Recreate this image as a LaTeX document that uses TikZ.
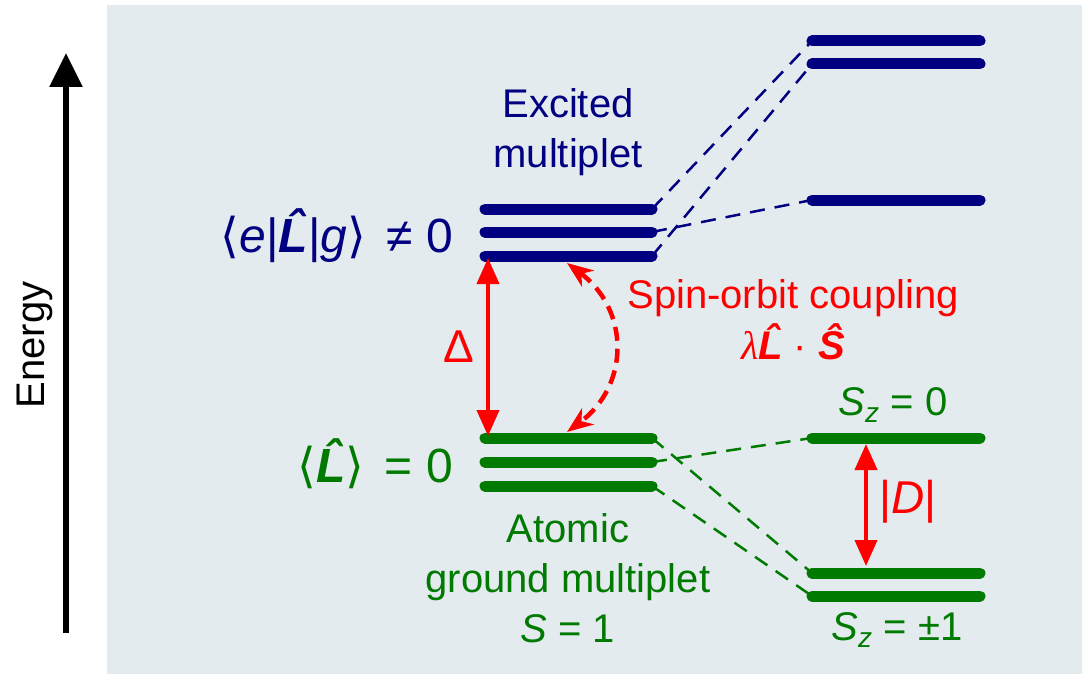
\documentclass[tikz,border=0pt]{standalone}
\usepackage{fontspec}
\setmainfont{Liberation Sans}
\newfontfamily\brkfont{DejaVu Sans}
\newfontfamily\greekit{Liberation Serif}
\usetikzlibrary{arrows.meta}

\definecolor{bgpanel}{RGB}{228,235,239}
\definecolor{exblue}{RGB}{0,0,128}
\definecolor{gsgreen}{RGB}{0,122,0}
\definecolor{socred}{RGB}{255,0,0}

\newcommand{\Lop}{{\bfseries\itshape\accent"02C6 L}}
\newcommand{\Sop}{{\bfseries\itshape\accent"02C6 S}}
\newcommand{\lbr}{{\brkfont ⟨}}
\newcommand{\rbr}{{\brkfont ⟩}}

\tikzset{
  lvlblue/.style={line width=11pt, line cap=round, exblue},
  lvlgreen/.style={line width=11pt, line cap=round, gsgreen},
  splitblue/.style={dash pattern=on 15pt off 10pt, line width=2.5pt, exblue},
  splitgreen/.style={dash pattern=on 15pt off 10pt, line width=2.5pt, gsgreen},
  gaparrow/.style={socred, line width=4pt, <->, >={Triangle[width=22pt,length=26pt]}},
  socarrow/.style={socred, line width=4.5pt, dash pattern=on 14pt off 8pt, <->,
    >={Stealth[width=20pt,length=26pt,inset=8pt]}},
  lbl/.style={font=\fontsize{40}{50}\selectfont, inner sep=0pt, align=center},
  formula/.style={font=\fontsize{48}{56}\selectfont, inner sep=0pt, anchor=base east}
}

\begin{document}
\begin{tikzpicture}[x=1pt, y=-1pt]
  \useasboundingbox (0,0) rectangle (1082,674);

  % Panel
  \fill[bgpanel] (107,5) rectangle (1082,674);

  % Energy axis
  \coordinate (ebot) at (66,633);
  \coordinate (etop) at (66,53);
  \draw[line width=6pt, -{Triangle[width=32pt,length=34pt]}] (ebot) -- (etop);
  \node[lbl, rotate=90] (elabel) at (35,345) {Energy};

  % Level end points
  \foreach \y [count=\i] in {209,232,256} {
    \coordinate (eL\i) at (485,\y);
    \coordinate (eR\i) at (652,\y);
  }
  \foreach \y [count=\i] in {41,64,200} {
    \coordinate (xL\i) at (812,\y);
    \coordinate (xR\i) at (980,\y);
  }
  \foreach \y [count=\i] in {438,462,486} {
    \coordinate (gL\i) at (485,\y);
    \coordinate (gR\i) at (652,\y);
  }
  \foreach \y [count=\i] in {438,573,596} {
    \coordinate (sL\i) at (812,\y);
    \coordinate (sR\i) at (980,\y);
  }

  % Splitting (dashed)
  \draw[splitblue] (eR1) -- (xL1);
  \draw[splitblue] (eR3) -- (xL2);
  \draw[splitblue] (eR2) -- (xL3);
  \draw[splitgreen] (gR2) -- (sL1);
  \draw[splitgreen] (gR1) -- (sL2);
  \draw[splitgreen] (gR3) -- (sL3);

  % Levels
  \foreach \i in {1,2,3} {
    \draw[lvlblue] (eL\i) -- (eR\i);
    \draw[lvlblue] (xL\i) -- (xR\i);
    \draw[lvlgreen] (gL\i) -- (gR\i);
    \draw[lvlgreen] (sL\i) -- (sR\i);
  }

  % Excited multiplet
  \node[lbl, exblue] (exname) at (568,132) {Excited\\multiplet};
  \node[formula, exblue] (exmat) at (453,252)
    {\lbr\textit{e}|\Lop|\textit{g}\rbr\hspace{7pt} ≠ 0};

  % Ground multiplet
  \node[formula, gsgreen] (gsexp) at (453,482)
    {\lbr\Lop\rbr\hspace{7pt} = 0};
  \node[lbl, gsgreen] (gsname) at (568,578)
    {Atomic\\ground multiplet\\\textit{S} = 1};
  \node[lbl, gsgreen] (szzero) at (893,405) {\textit{S}\textsubscript{\textit{z}} = 0};
  \node[lbl, gsgreen] (szone) at (897,630) {\textit{S}\textsubscript{\textit{z}} = ±1};

  % Gaps
  \coordinate (dtop) at (488,258);
  \coordinate (dbot) at (488,436);
  \draw[gaparrow] (dtop) -- (dbot);
  \node[lbl, socred, font=\fontsize{46}{50}\selectfont] (delta) at (459,347) {Δ};

  \coordinate (ztop) at (866,444);
  \coordinate (zbot) at (866,566);
  \draw[gaparrow] (ztop) -- (zbot);
  \node[lbl, socred, font=\fontsize{46}{50}\selectfont] (dlabel) at (908,502) {|\textit{D}|};

  % Spin-orbit coupling
  \coordinate (stop) at (567,263);
  \coordinate (sbot) at (567,432);
  \draw[socarrow] (stop) .. controls (630,310) and (630,385) .. (sbot);
  \node[lbl, socred] (socname) at (793,298) {Spin-orbit coupling};
  \node[lbl, socred] (socterm) at (793,342) {{\greekit\itshape λ}\Lop\ ·\ \Sop};

\end{tikzpicture}
\end{document}
